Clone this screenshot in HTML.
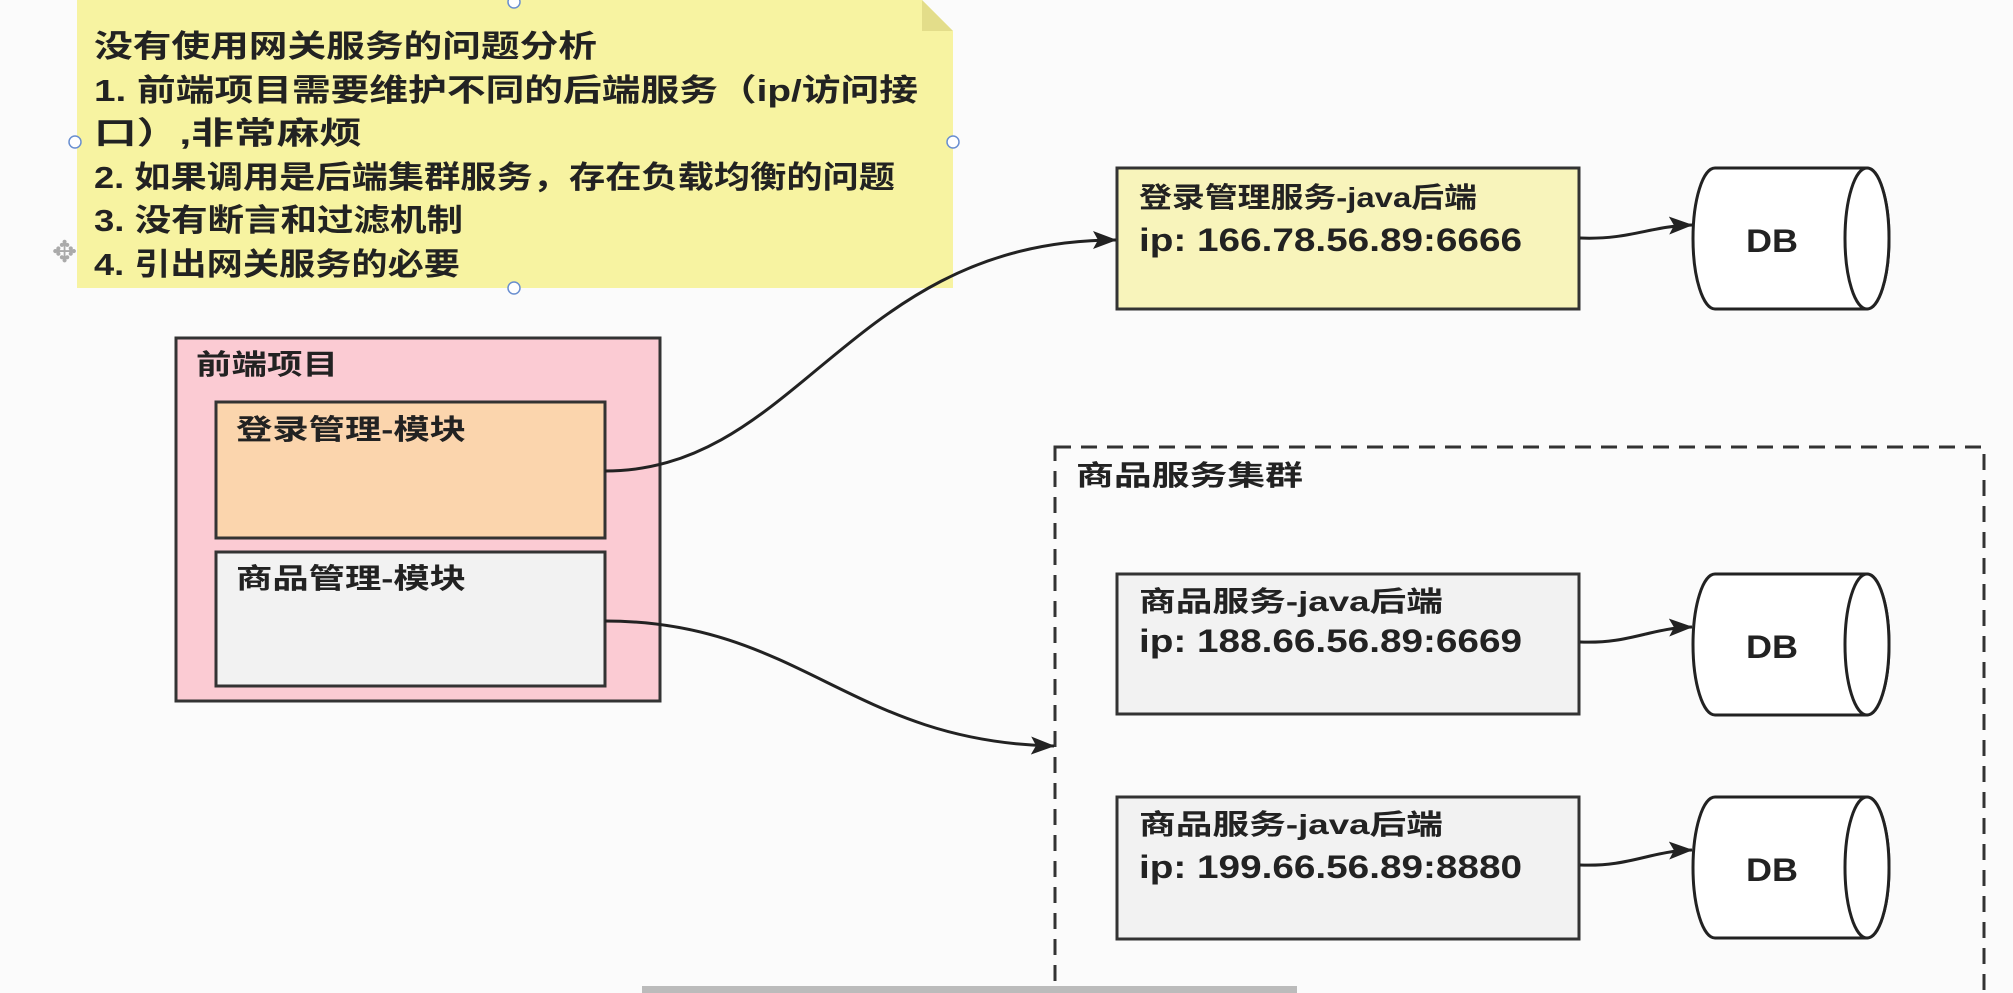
<!DOCTYPE html>
<html><head><meta charset="utf-8"><style>
html,body{margin:0;padding:0;background:#fbfbfb;}
svg{display:block}
text{font-family:"Liberation Sans","Noto Sans CJK SC",sans-serif;font-weight:bold;fill:#222;}
</style></head><body>
<svg width="2013" height="993" viewBox="0 0 2013 993" xmlns="http://www.w3.org/2000/svg">
<defs>
<marker id="ah" markerWidth="24" markerHeight="18" refX="23" refY="9" orient="auto" markerUnits="userSpaceOnUse" viewBox="0 0 24 18">
<path d="M0,0 L24,9 L0,18 L5,9 Z" fill="#222"/>
</marker>
<g id="db">
<path d="M22,0 A22,70.5 0 0 0 22,141 L174,141 A22,70.5 0 0 0 174,0 Z" fill="#fff" stroke="#222" stroke-width="3"/>
<ellipse cx="174" cy="70.5" rx="22" ry="70.5" fill="#fff" stroke="#222" stroke-width="3"/>
<text x="53" y="84" font-size="32" textLength="52" lengthAdjust="spacingAndGlyphs">DB</text>
</g>
</defs>
<!-- sticky note -->
<path d="M77,0 L922,0 L953,31 L953,288 L77,288 Z" fill="#f7f3a1"/>
<path d="M922,0 L922,31 L953,31 Z" fill="#e3dd8a"/>
<g font-size="31">
<text x="94" y="57" textLength="503" lengthAdjust="spacingAndGlyphs">没有使用网关服务的问题分析</text>
<text x="94" y="101" textLength="824" lengthAdjust="spacingAndGlyphs">1. 前端项目需要维护不同的后端服务（ip/访问接</text>
<text x="94" y="144" textLength="268" lengthAdjust="spacingAndGlyphs">口）,非常麻烦</text>
<text x="94" y="188" textLength="801" lengthAdjust="spacingAndGlyphs">2. 如果调用是后端集群服务，存在负载均衡的问题</text>
<text x="94" y="231" textLength="369" lengthAdjust="spacingAndGlyphs">3. 没有断言和过滤机制</text>
<text x="94" y="275" textLength="366" lengthAdjust="spacingAndGlyphs">4. 引出网关服务的必要</text>
</g>
<g fill="#fff" stroke="#6a8fd0" stroke-width="1.5">
<circle cx="514" cy="2" r="6"/><circle cx="75" cy="142" r="6"/><circle cx="953" cy="142" r="6"/><circle cx="514" cy="288" r="6"/>
</g>
<text x="52" y="262" font-size="30" style="fill:#aaa;font-weight:normal">✥</text>
<!-- frontend -->
<rect x="176" y="338" width="484" height="363" fill="#fbcbd3" stroke="#333" stroke-width="3"/>
<text x="196" y="374" font-size="28" textLength="142" lengthAdjust="spacingAndGlyphs">前端项目</text>
<rect x="216" y="402" width="389" height="136" fill="#fbd5ad" stroke="#333" stroke-width="3"/>
<text x="236" y="439" font-size="28" textLength="230" lengthAdjust="spacingAndGlyphs">登录管理-模块</text>
<rect x="216" y="552" width="389" height="134" fill="#f2f2f2" stroke="#333" stroke-width="3"/>
<text x="236" y="588" font-size="28" textLength="230" lengthAdjust="spacingAndGlyphs">商品管理-模块</text>
<!-- login service -->
<rect x="1117" y="168" width="462" height="141" fill="#f8f4bb" stroke="#333" stroke-width="3"/>
<text x="1139" y="207" font-size="28" textLength="338" lengthAdjust="spacingAndGlyphs">登录管理服务-java后端</text>
<text x="1139" y="251" font-size="32" textLength="383" lengthAdjust="spacingAndGlyphs">ip: 166.78.56.89:6666</text>
<use href="#db" x="1693" y="168"/>
<!-- cluster -->
<rect x="1055" y="447" width="929" height="560" fill="none" stroke="#333" stroke-width="3" stroke-dasharray="16,10"/>
<text x="1076" y="485" font-size="28" textLength="227" lengthAdjust="spacingAndGlyphs">商品服务集群</text>
<rect x="1117" y="574" width="462" height="140" fill="#f2f2f2" stroke="#333" stroke-width="3"/>
<text x="1139" y="611" font-size="28" textLength="304" lengthAdjust="spacingAndGlyphs">商品服务-java后端</text>
<text x="1139" y="652" font-size="32" textLength="383" lengthAdjust="spacingAndGlyphs">ip: 188.66.56.89:6669</text>
<use href="#db" x="1693" y="574"/>
<rect x="1117" y="797" width="462" height="142" fill="#f2f2f2" stroke="#333" stroke-width="3"/>
<text x="1139" y="834" font-size="28" textLength="304" lengthAdjust="spacingAndGlyphs">商品服务-java后端</text>
<text x="1139" y="878" font-size="32" textLength="383" lengthAdjust="spacingAndGlyphs">ip: 199.66.56.89:8880</text>
<use href="#db" x="1693" y="797"/>
<!-- arrows -->
<g fill="none" stroke="#222" stroke-width="3" marker-end="url(#ah)">
<path d="M605,471 C800,471 850,240 1116,240"/>
<path d="M1580,238 C1630,240 1650,226 1692,225"/>
<path d="M605,621 C800,621 850,742 1054,746"/>
<path d="M1580,642 C1630,644 1650,628 1692,627"/>
<path d="M1580,865 C1630,867 1650,851 1692,850"/>
</g>
<rect x="642" y="986" width="655" height="7" fill="#bbb"/>
</svg>
</body></html>
